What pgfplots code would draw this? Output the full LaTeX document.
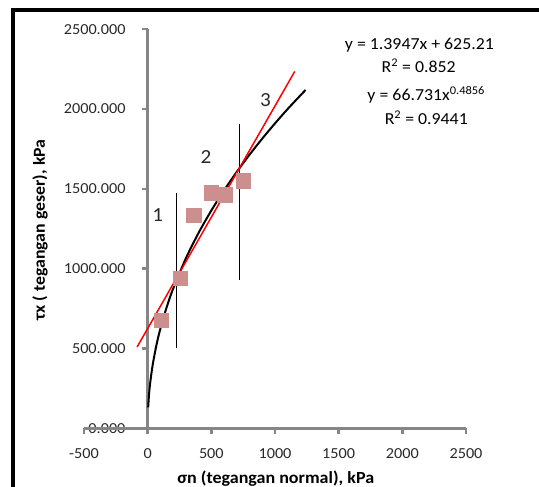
\documentclass[border=0pt]{standalone}
\usepackage{fontspec}
\setmainfont{Carlito}[FakeStretch=1.06]
\usepackage{pgfplots}
\pgfplotsset{compat=1.18}
\definecolor{axgray}{RGB}{134,134,134}
\definecolor{mk}{RGB}{205,142,142}
\definecolor{txt}{RGB}{40,40,40}
\begin{document}
\begin{tikzpicture}
\useasboundingbox (0pt,0pt) rectangle (539pt,487pt);
% y axis (drawn at x = 0 of the main axis)
\begin{axis}[at={(148pt,58.7pt)}, anchor=south west, scale only axis,
  width=10pt, height=399pt,
  xmin=0, xmax=1, ymin=0, ymax=2500,
  axis y line=left, axis x line=none,
  xtick=\empty,
  ytick={0,500,1000,1500,2000,2500},
  y axis line style={draw=axgray, line width=3pt, -},
  major tick length=6pt,
  tick align=outside,
  ytick style={draw=axgray, line width=2.4pt},
  /pgf/number format/assume math mode=true,
  y tick label style={font=\fontsize{15.3}{18}\selectfont, text=txt, xshift=-13pt,
     /pgf/number format/.cd, fixed, fixed zerofill, precision=3, 1000 sep={}},
]
\end{axis}
\begin{axis}[at={(84pt,58.7pt)}, anchor=south west, scale only axis,
  width=382pt, height=399pt,
  xmin=-500, xmax=2500, ymin=0, ymax=2500,
  axis x line=bottom, axis y line=none,
  x axis line style={draw=axgray, line width=3pt, -},
  xtick={-500,0,500,1000,1500,2000,2500},
  ytick=\empty,
  major tick length=6pt,
  tick align=outside,
  xtick style={draw=axgray, line width=2.4pt},
  /pgf/number format/assume math mode=true,
  x tick label style={font=\fontsize{15.3}{18}\selectfont, text=txt, yshift=-10.5pt, /pgf/number format/1000 sep={}},
  every axis x label/.style={at={(axis description cs:0.502,-0.125)}, anchor=center},
  xlabel={\fontsize{17}{20}\selectfont\bfseries σn (tegangan normal), kPa},
  clip=false,
]
\addplot[only marks, color=mk, mark=square*, mark size=7.3pt, mark options={draw=mk, fill=mk, rounded corners=1.5pt}]
  coordinates {(107,678) (257,940) (361,1336) (500,1478) (605,1462) (749,1551)};
\addplot[black, line width=0.7pt] coordinates {(222,501) (222,1472)};
\addplot[black, line width=0.7pt] coordinates {(722,929) (722,1907)};
\addplot[black, line width=2pt, smooth] coordinates {
 (4,130.8) (10,204.1) (20,285.8) (40,400.2) (70,525.2) (100,624.6) (150,760.4)
 (200,874.4) (300,1064.7) (400,1224.5) (500,1364.5) (600,1490.7) (700,1606.7)
 (800,1714.2) (900,1815.1) (1000,1910.4) (1100,2001.0) (1240,2120)};
\addplot[red, line width=1.5pt] coordinates {(-83,509.5) (1155,2236)};
\node[text=txt, font=\fontsize{20}{24}\selectfont] at (axis cs:80,1336) {1};
\node[text=txt, font=\fontsize{20}{24}\selectfont] at (axis cs:458,1698) {2};
\node[text=txt, font=\fontsize{20}{24}\selectfont] at (axis cs:925,2057) {3};
\node[font=\fontsize{16.8}{19}\selectfont] at (axis description cs:0.878,0.961) {y = 1.3947x + 625.21};
\node[font=\fontsize{16.8}{19}\selectfont] at (axis description cs:0.876,0.908) {R\textsuperscript{2} = 0.852};
\node[font=\fontsize{16.8}{19}\selectfont] at (axis description cs:0.896,0.835) {y = 66.731x\textsuperscript{0.4856}};
\node[font=\fontsize{16.8}{19}\selectfont] at (axis description cs:0.896,0.779) {R\textsuperscript{2} = 0.9441};
\node[rotate=90, font=\fontsize{16.8}{20}\selectfont\bfseries] at (axis description cs:-0.115,0.497) {τx ( tegangan geser), kPa};
\end{axis}
\draw[line width=4pt] (13pt,-5pt) -- (13pt,476.5pt) -- (545pt,476.5pt);
\end{tikzpicture}
\end{document}
